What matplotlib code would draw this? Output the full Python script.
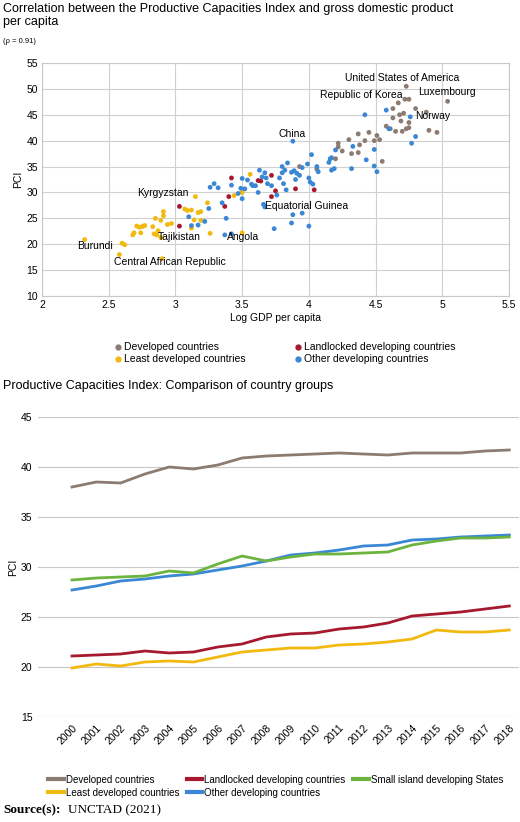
import matplotlib
matplotlib.use("Agg")
import matplotlib.pyplot as plt
from matplotlib.lines import Line2D

plt.rcParams['font.family'] = ['Liberation Sans', 'DejaVu Sans']

C_DEV = '#8c7b70'; C_LDC = '#f2b90f'; C_LLDC = '#a6192e'; C_OTH = '#3a87d6'; C_SIDS = '#6db33f'

dev = [(4.73,50.5),(4.72,48),(4.75,48),(4.67,47.3),(4.63,46.2),(4.8,46.2),(4.88,45.5),(4.68,45),(4.71,45.3),(4.63,44.4),(4.69,43.8),(4.75,43.5),(4.58,42.8),(4.61,42.3),(4.65,41.8),(4.7,41.8),(4.73,42.3),(4.75,42.5),(4.9,42),(4.96,41.6),(5.04,47.6),(4.45,41.6),(4.37,41.3),(4.51,41),(4.53,40.2),(4.49,40),(4.42,40),(4.3,40.2),(4.38,39.2),(4.22,39.5),(4.22,38.8),(4.25,38),(4.32,37.5),(4.37,37.7),(4.55,36),(4.2,36.5),(3.93,35),(4.06,34.5)]
ldc = [(2.32,20.9),(2.58,18),(2.9,17.2),(2.6,20.2),(2.62,19.9),(2.68,21.8),(2.69,22.2),(2.71,23.5),(2.73,23.3),(2.75,23.4),(2.76,23.5),(2.77,23.6),(2.74,22.2),(2.83,23.4),(2.84,22.0),(2.86,21.8),(2.87,22.6),(2.85,25),(2.89,24.6),(2.91,25.5),(2.91,26.3),(2.89,21.3),(2.94,23.8),(2.97,24),(3.07,26.8),(3.09,26.5),(3.12,26.6),(3.15,29.2),(3.17,26.1),(3.19,26.3),(3.14,24.7),(3.12,23.1),(3.19,24.6),(3.24,28.0),(3.26,22.1),(3.44,29.4),(3.5,30),(3.56,33.5),(3.5,22.2)]
lldc = [(3.03,27.3),(3.03,23.5),(3.42,32.8),(3.4,29.2),(3.37,27.3),(3.62,32.3),(3.64,32.2),(3.72,33.3),(3.72,29.2),(3.75,30.3),(3.9,30.7),(4.04,30.5)]
oth = [(3.26,31),(3.29,31.7),(3.32,30.9),(3.1,25.3),(3.12,23.6),(3.17,23.7),(3.22,24.4),(3.25,26.9),(3.35,28),(3.38,25),(3.37,21.8),(3.42,22),(3.42,31.4),(3.47,29.8),(3.49,30.8),(3.5,32.7),(3.5,28.8),(3.52,30.7),(3.54,32.4),(3.57,31.6),(3.58,31.3),(3.6,31.3),(3.62,30),(3.63,34.3),(3.65,33),(3.67,33.8),(3.68,32.8),(3.69,31.7),(3.72,31.3),(3.66,27.7),(3.67,27.2),(3.74,23),(3.76,29.5),(3.78,32.8),(3.8,33.8),(3.8,35),(3.82,34.3),(3.84,35.7),(3.81,31.7),(3.83,30.5),(3.87,33.9),(3.88,39.9),(3.88,25.7),(3.87,24.1),(3.89,34.2),(3.9,32.5),(3.91,33.7),(3.93,33.3),(3.95,34.8),(3.95,26),(3.99,35.5),(4.0,32.8),(4.01,32),(4.03,31.6),(4.0,23.5),(4.02,37.3),(4.06,35),(4.07,34),(4.15,35.8),(4.16,36.5),(4.17,36.7),(4.17,34.3),(4.19,34.6),(4.2,38.2),(4.32,34.6),(4.33,38.9),(4.42,45),(4.43,36.3),(4.49,38.3),(4.49,35.1),(4.51,34),(4.58,45.9),(4.6,42.3),(4.76,44.6),(4.77,39.5),(4.8,40.8)]

labels = [("United States of America",4.27,51.5),("Luxembourg",4.82,48.8),("Republic of Korea",4.08,48.2),("Norway",4.8,44.2),("China",3.77,40.8),("Kyrgyzstan",2.71,29.4),("Equatorial Guinea",3.67,26.8),("Tajikistan",2.87,20.8),("Angola",3.39,20.8),("Burundi",2.26,19.1),("Central African Republic",2.54,15.9)]

years = list(range(2000, 2019))
s_dev = [38.0,38.5,38.4,39.3,40.0,39.8,40.2,40.9,41.1,41.2,41.3,41.4,41.3,41.2,41.4,41.4,41.4,41.6,41.7]
s_ldc = [19.9,20.3,20.1,20.5,20.6,20.5,21.0,21.5,21.7,21.9,21.9,22.2,22.3,22.5,22.8,23.7,23.5,23.5,23.7]
s_lldc = [21.1,21.2,21.3,21.6,21.4,21.5,22.0,22.3,23.0,23.3,23.4,23.8,24.0,24.4,25.1,25.3,25.5,25.8,26.1]
s_oth = [27.7,28.1,28.6,28.8,29.1,29.3,29.7,30.1,30.6,31.2,31.4,31.7,32.1,32.2,32.7,32.8,33.0,33.1,33.2]
s_sids = [28.7,28.9,29.0,29.1,29.6,29.4,30.3,31.1,30.6,31.0,31.3,31.3,31.4,31.5,32.2,32.6,32.9,32.9,33.0]

W, H = 520, 822
fig = plt.figure(figsize=(5.2, 8.22), dpi=100)

fig.text(3/W, 1-3/H, "Correlation between the Productive Capacities Index and gross domestic product\nper capita", fontsize=9, va='top', ha='left', linespacing=1.1)
fig.text(3/W, 1-38/H, "(ρ = 0.91)", fontsize=5.5, va='top', ha='left')

ax = fig.add_axes([42/W, 1-296/H, 467/W, 233/H])
for pts, c in [(dev, C_DEV), (ldc, C_LDC), (lldc, C_LLDC), (oth, C_OTH)]:
    ax.scatter([p[0] for p in pts], [p[1] for p in pts], s=12, color=c, edgecolors='none', zorder=3)
for t, x, y in labels:
    ax.text(x, y, t, fontsize=7.5, zorder=4)
ax.set_xlim(2, 5.5); ax.set_ylim(10, 55)
ax.set_xticks([2,2.5,3,3.5,4,4.5,5,5.5]); ax.set_xticklabels(['2','2.5','3','3.5','4','4.5','5','5.5'])
ax.set_yticks(range(10, 56, 5))
ax.grid(color='#d0d0d0', lw=0.8); ax.set_axisbelow(True)
for s in ax.spines.values(): s.set_color('#c8c8c8')
ax.tick_params(length=0, labelsize=7.5, pad=3)
ax.set_xlabel("Log GDP per capita", fontsize=7.5, labelpad=2)
ax.set_ylabel("PCI", fontsize=7.5, labelpad=2)
h = [Line2D([], [], marker='o', ls='', color=c, ms=3.5) for c in (C_DEV, C_LDC, C_LLDC, C_OTH)]
fig.legend(h, ["Developed countries", "Least developed countries", "Landlocked developing countries", "Other developing countries"],
           ncol=2, loc='upper left', bbox_to_anchor=(103/W, 1-333/H), frameon=False, fontsize=7.5,
           handletextpad=0.1, columnspacing=4.5, labelspacing=0.2, handlelength=1)

fig.text(3/W, 1-380/H, "Productive Capacities Index: Comparison of country groups", fontsize=9, va='top', ha='left')

ax2 = fig.add_axes([38/W, 1-717/H, 481/W, 300/H])
for s, c in [(s_dev, C_DEV), (s_ldc, C_LDC), (s_lldc, C_LLDC), (s_oth, C_OTH), (s_sids, C_SIDS)]:
    ax2.plot(years, s, color=c, lw=2)
ax2.set_ylim(15, 45); ax2.set_yticks(range(15, 46, 5))
ax2.set_xlim(1998.6, 2018.4)
ax2.set_xticks(years)
ax2.set_xticklabels([str(y) for y in years], rotation=45, ha='right', rotation_mode='anchor', fontsize=7.5)
ax2.grid(axis='y', color='#c8c8c8', lw=0.8); ax2.set_axisbelow(True)
for s in ax2.spines.values(): s.set_visible(False)
ax2.tick_params(length=0, labelsize=7.5, pad=4)
ax2.set_ylabel("PCI", fontsize=7.5, labelpad=2)
lh = [Line2D([], [], color=c, lw=3) for c in (C_DEV, C_LDC, C_LLDC, C_OTH, C_SIDS)]
fig.legend(lh, ["Developed countries", "Least developed countries", "Landlocked developing countries", "Other developing countries", "Small island developing States"],
           ncol=3, loc='upper center', bbox_to_anchor=(0.53, 1-766/H), frameon=False, fontsize=7,
           handletextpad=0.2, columnspacing=0.8, labelspacing=0.3, handlelength=1.6)
fig.text(3/W, 1-810/H, "Source(s):", fontsize=9.5, fontweight='bold', family='Liberation Serif', va='center')
fig.text(68/W, 1-810/H, "UNCTAD (2021)", fontsize=9.5, family='Liberation Serif', va='center')

fig.savefig("out.png", dpi=100)
